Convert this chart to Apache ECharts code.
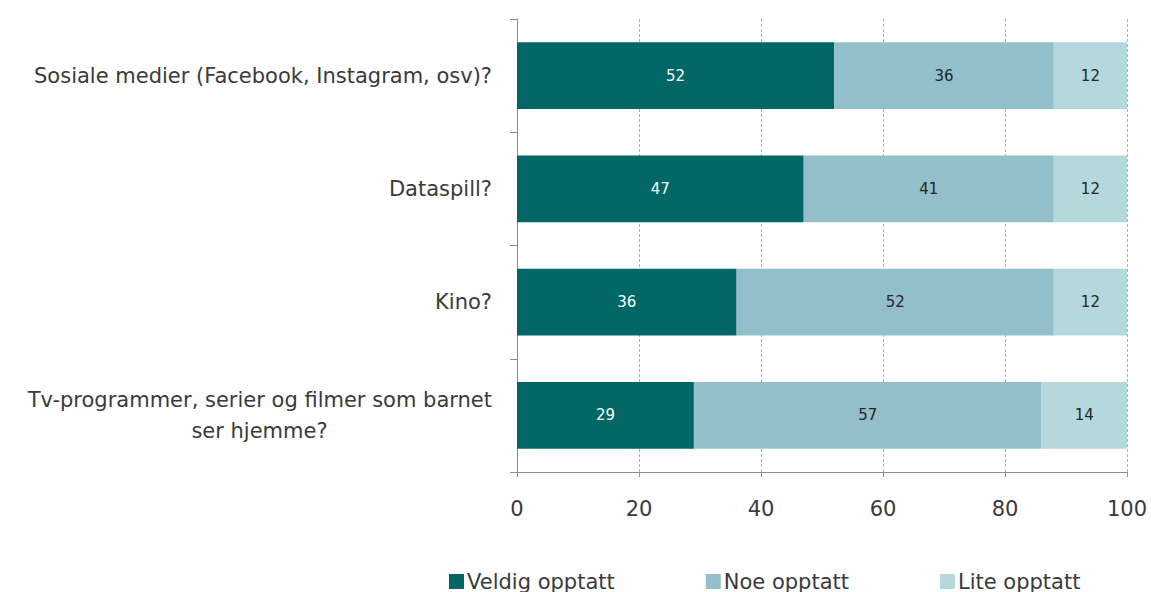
<!DOCTYPE html>
<html lang="nb">
<head>
  <meta charset="UTF-8">
  <title>Opptatt av</title>
  <style>
    html, body { margin: 0; padding: 0; background: #fff; }
    #chart { width: 1151px; height: 592px; }
  </style>
</head>
<body>
  <div id="chart"></div>
  <script src="https://cdn.jsdelivr.net/npm/echarts@6/dist/echarts.min.js"></script>
  <script>
    // Data
    const categories = [
      "Sosiale medier (Facebook, Instagram, osv)?",
      "Dataspill?",
      "Kino?",
      "Tv-programmer, serier og filmer som barnet\nser hjemme?"
    ];
    const seriesNames = ["Veldig opptatt", "Noe opptatt", "Lite opptatt"];
    const veldig = [52, 47, 36, 29];
    const noe = [36, 41, 52, 57];
    const lite = [12, 12, 12, 14];
    const xTicks = [0, 20, 40, 60, 80, 100];

    const colors = ["#006666", "#92bfca", "#b4d8db"];
    const labelColors = ["#ffffff", "#262626", "#262626"];
    const font = "'DejaVu Sans', sans-serif";
    const textColor = "#3a3a3a";
    const catSize = 21;

    // width of the first line of a wrapped label, so the second line can be centred under it
    const measure = (txt, size) => {
      const ctx = document.createElement("canvas").getContext("2d");
      ctx.font = size + "px 'DejaVu Sans'";
      return Math.ceil(ctx.measureText(txt).width);
    };

    const chart = echarts.init(document.getElementById("chart"), null, { renderer: "svg" });

    const makeSeries = (name, data, i) => ({
      name: name,
      type: "bar",
      stack: "total",
      data: data,
      barCategoryGap: "41%",
      itemStyle: { color: colors[i] },
      label: {
        show: true,
        position: "inside",
        color: labelColors[i],
        fontFamily: font,
        fontSize: 15
      }
    });

    chart.setOption({
      animation: false,
      textStyle: { fontFamily: font },
      grid: { left: 517, right: 24, top: 19, bottom: 120 },
      legend: {
        top: 566,
        left: 444,
        itemGap: 91,
        itemWidth: 15,
        itemHeight: 15,
        icon: "rect",
        textStyle: { fontSize: 21, color: textColor, fontFamily: font, padding: [0, 0, 0, -2] },
        data: seriesNames
      },
      xAxis: {
        type: "value",
        min: xTicks[0],
        max: xTicks[xTicks.length - 1],
        interval: 20,
        axisLine: { show: true, lineStyle: { color: "#8c8c8c" } },
        axisTick: { show: true, length: 5, lineStyle: { color: "#8c8c8c" } },
        axisLabel: { fontSize: 21, color: textColor, margin: 26 },
        splitLine: { show: true, lineStyle: { type: [3, 2], color: "#b0b0b0" } }
      },
      yAxis: {
        type: "category",
        inverse: true,
        data: categories,
        axisLine: { show: true, lineStyle: { color: "#8c8c8c" } },
        axisTick: { show: true, length: 7, lineStyle: { color: "#8c8c8c" } },
        axisLabel: {
          margin: 25,
          fontSize: catSize,
          color: textColor,
          lineHeight: 31,
          formatter: (v) => {
            const parts = v.split("\n");
            if (parts.length === 1) return v;
            return "{a|" + parts[0] + "}\n{b|" + parts[1] + "}";
          },
          rich: {
            a: { fontSize: catSize, color: textColor, lineHeight: 31 },
            b: {
              fontSize: catSize, color: textColor, lineHeight: 31,
              width: measure(categories[3].split("\n")[0], catSize), align: "center"
            }
          }
        }
      },
      series: [
        makeSeries(seriesNames[0], veldig, 0),
        makeSeries(seriesNames[1], noe, 1),
        makeSeries(seriesNames[2], lite, 2)
      ]
    });
  </script>
</body>
</html>
